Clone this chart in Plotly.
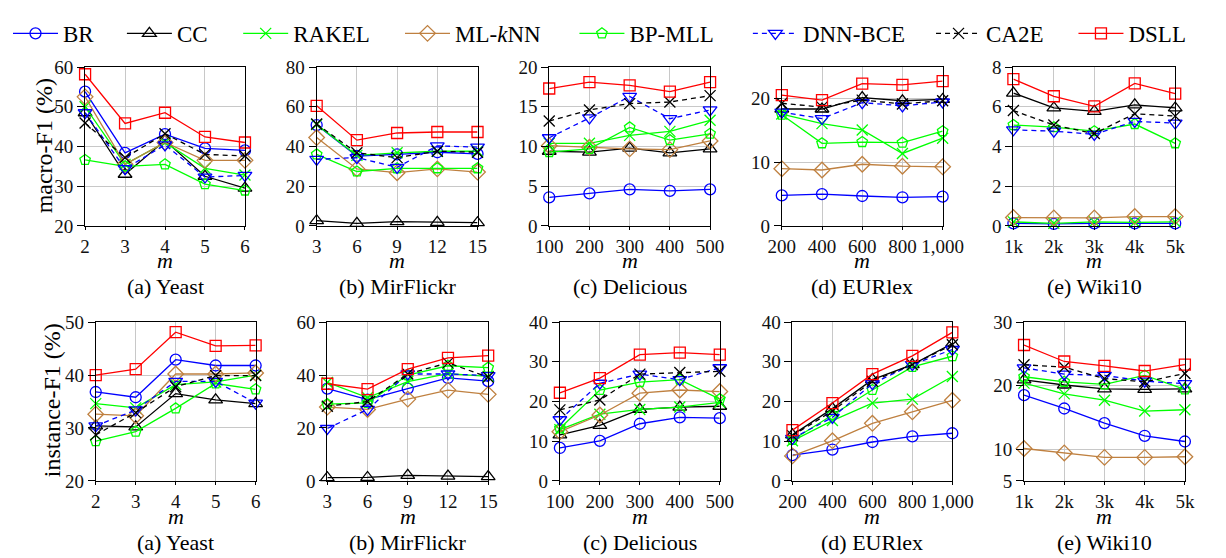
import plotly.graph_objects as go

W, H = 1226, 558

methods = ["BR", "CC", "RAKEL", "ML-kNN", "BP-MLL", "DNN-BCE", "CA2E", "DSLL"]
legend_names = ["BR", "CC", "RAKEL", "ML-<i>k</i>NN", "BP-MLL", "DNN-BCE", "CA2E", "DSLL"]
colors = ["#0000ff", "#000000", "#00ff00", "#bf8040", "#00ff00", "#0000ff", "#000000", "#ff0000"]
symbols = ["circle-open", "triangle-up-open", "x-thin-open", "diamond-open",
           "pentagon-open", "triangle-down-open", "x-thin-open", "square-open"]
msizes = [11, 12, 11, 12, 11, 12, 11, 11]
dashes = ["solid", "solid", "solid", "solid", "solid", "5px,4px", "5px,4px", "solid"]

# ---------------- x values ----------------
x_yeast = [2, 3, 4, 5, 6]
x_mir = [3, 6, 9, 12, 15]
x_del = [100, 200, 300, 400, 500]
x_eur = [200, 400, 600, 800, 1000]
x_wiki = [1000, 2000, 3000, 4000, 5000]
wiki_ticktext = ["1k", "2k", "3k", "4k", "5k"]

# ---------------- macro-F1 (%) ----------------
yeast_macro = {
    "BR": [53.8, 38.4, 43.1, 39.5, 39.0],
    "CC": [48.5, 33.0, 41.5, 32.5, 29.5],
    "RAKEL": [50.0, 35.5, 41.0, 34.5, 32.8],
    "ML-kNN": [52.5, 35.5, 41.0, 36.5, 36.5],
    "BP-MLL": [36.6, 35.0, 35.5, 30.5, 28.9],
    "DNN-BCE": [48.5, 34.4, 40.4, 32.3, 32.7],
    "CA2E": [45.9, 37.2, 43.2, 38.0, 37.6],
    "DSLL": [58.2, 45.8, 48.5, 42.4, 41.0],
}
mir_macro = {
    "BR": [50.8, 35.2, 36.0, 37.1, 36.3],
    "CC": [2.6, 1.3, 2.1, 1.8, 1.6],
    "RAKEL": [51.0, 35.5, 36.8, 37.6, 37.6],
    "ML-kNN": [44.5, 28.7, 26.8, 28.7, 27.1],
    "BP-MLL": [36.0, 27.4, 29.0, 29.0, 29.0],
    "DNN-BCE": [33.5, 34.4, 29.5, 40.3, 39.7],
    "CA2E": [51.3, 36.8, 34.4, 37.6, 37.1],
    "DSLL": [60.5, 43.2, 46.8, 47.3, 47.3],
}
del_macro = {
    "BR": [3.6, 4.1, 4.6, 4.4, 4.6],
    "CC": [9.4, 9.3, 9.8, 9.2, 9.7],
    "RAKEL": [10.4, 10.4, 11.4, 11.9, 13.3],
    "ML-kNN": [10.1, 9.9, 9.7, 9.6, 10.7],
    "BP-MLL": [9.3, 9.7, 12.4, 10.8, 11.6],
    "DNN-BCE": [11.1, 13.6, 16.3, 13.5, 14.6],
    "CA2E": [13.2, 14.6, 15.4, 15.6, 16.4],
    "DSLL": [17.3, 18.1, 17.7, 16.9, 18.1],
}
eur_macro = {
    "BR": [4.8, 5.0, 4.7, 4.5, 4.6],
    "CC": [18.4, 18.4, 20.2, 19.7, 19.9],
    "RAKEL": [17.6, 16.1, 15.1, 11.4, 13.8],
    "ML-kNN": [9.0, 8.8, 9.7, 9.4, 9.3],
    "BP-MLL": [17.5, 13.0, 13.2, 13.1, 14.9],
    "DNN-BCE": [17.9, 16.9, 19.4, 18.9, 19.5],
    "CA2E": [19.3, 18.7, 19.8, 19.2, 19.7],
    "DSLL": [20.6, 19.8, 22.4, 22.2, 22.8],
}
wiki_macro = {
    "BR": [0.13, 0.10, 0.13, 0.13, 0.13],
    "CC": [6.69, 5.94, 5.77, 6.10, 5.94],
    "RAKEL": [0.20, 0.13, 0.20, 0.18, 0.20],
    "ML-kNN": [0.42, 0.40, 0.40, 0.47, 0.47],
    "BP-MLL": [5.08, 4.97, 4.77, 5.13, 4.16],
    "DNN-BCE": [4.84, 4.77, 4.61, 5.26, 5.18],
    "CA2E": [5.81, 5.08, 4.65, 5.65, 5.53],
    "DSLL": [7.39, 6.53, 6.02, 7.18, 6.66],
}

# ---------------- instance-F1 (%) ----------------
yeast_inst = {
    "BR": [36.8, 35.8, 42.9, 41.8, 41.8],
    "CC": [30.4, 30.2, 36.5, 35.3, 34.6],
    "RAKEL": [34.6, 33.8, 38.2, 38.7, 40.0],
    "ML-kNN": [32.6, 32.3, 40.2, 40.2, 40.4],
    "BP-MLL": [27.5, 29.3, 33.7, 38.4, 37.3],
    "DNN-BCE": [30.4, 33.4, 38.8, 38.8, 34.7],
    "CA2E": [28.7, 32.9, 37.8, 39.9, 39.9],
    "DSLL": [40.0, 41.1, 48.1, 45.5, 45.6],
}
mir_inst = {
    "BR": [34.9, 30.7, 34.9, 38.9, 37.7],
    "CC": [1.2, 1.3, 2.1, 1.8, 1.6],
    "RAKEL": [37.2, 31.5, 37.5, 40.5, 39.5],
    "ML-kNN": [27.9, 27.0, 30.9, 34.3, 32.7],
    "BP-MLL": [29.0, 29.5, 40.0, 43.5, 42.8],
    "DNN-BCE": [19.8, 27.0, 40.4, 40.4, 39.8],
    "CA2E": [28.2, 30.0, 40.4, 44.6, 39.2],
    "DSLL": [36.7, 34.7, 42.2, 46.5, 47.3],
}
del_inst = {
    "BR": [8.3, 10.1, 14.4, 16.0, 15.8],
    "CC": [11.6, 14.0, 18.0, 18.6, 18.8],
    "RAKEL": [12.9, 16.8, 18.0, 18.6, 19.8],
    "ML-kNN": [12.4, 16.6, 22.1, 22.9, 22.5],
    "BP-MLL": [13.2, 22.9, 24.9, 25.5, 20.6],
    "DNN-BCE": [15.4, 24.6, 26.9, 25.5, 28.5],
    "CA2E": [17.9, 20.4, 26.9, 27.3, 27.6],
    "DSLL": [22.2, 25.9, 31.8, 32.3, 31.8],
}
eur_inst = {
    "BR": [6.5, 7.9, 9.8, 11.2, 12.0],
    "CC": [11.6, 18.2, 25.5, 29.3, 34.6],
    "RAKEL": [10.1, 15.2, 19.6, 20.6, 26.3],
    "ML-kNN": [6.3, 10.1, 14.5, 17.4, 20.3],
    "BP-MLL": [10.3, 16.6, 22.9, 28.7, 31.4],
    "DNN-BCE": [10.7, 16.0, 24.5, 29.3, 33.1],
    "CA2E": [11.4, 17.6, 25.1, 29.3, 34.3],
    "DSLL": [12.8, 19.6, 26.9, 31.5, 37.4],
}
wiki_inst = {
    "BR": [18.5, 16.4, 14.1, 12.1, 11.2],
    "CC": [20.9, 20.1, 19.5, 19.4, 19.5],
    "RAKEL": [20.4, 18.7, 17.7, 16.0, 16.2],
    "ML-kNN": [10.1, 9.4, 8.7, 8.7, 8.8],
    "BP-MLL": [21.4, 20.6, 20.2, 21.6, 19.4],
    "DNN-BCE": [22.8, 21.8, 21.6, 20.7, 20.3],
    "CA2E": [23.3, 22.9, 21.1, 20.6, 21.9],
    "DSLL": [26.4, 23.8, 23.1, 22.3, 23.3],
}

subtitles = ["(a) Yeast", "(b) MirFlickr", "(c) Delicious", "(d) EURlex", "(e) Wiki10"]

# panel geometry in pixels (left, right) and (top, bottom)
row_px_x = [
    [(62, 227), (301, 467), (541, 707), (781, 947), (1020, 1187)],
    [(73, 238), (312, 478), (552, 717), (792, 957), (1031, 1197)],
]
row_px_y = [(51, 216), (316, 481)]
m_offset = [36, 37]
sub_offset = [63, 64]

panels = [
    (0, 0, x_yeast, yeast_macro, [20, 60], [20, 30, 40, 50, 60]),
    (0, 1, x_mir, mir_macro, [0, 80], [0, 20, 40, 60, 80]),
    (0, 2, x_del, del_macro, [0, 20], [0, 5, 10, 15, 20]),
    (0, 3, x_eur, eur_macro, [0, 25], [0, 10, 20]),
    (0, 4, x_wiki, wiki_macro, [0, 8], [0, 2, 4, 6, 8]),
    (1, 0, x_yeast, yeast_inst, [20, 50], [20, 30, 40, 50]),
    (1, 1, x_mir, mir_inst, [0, 60], [0, 20, 40, 60]),
    (1, 2, x_del, del_inst, [0, 40], [0, 10, 20, 30, 40]),
    (1, 3, x_eur, eur_inst, [0, 40], [0, 10, 20, 30, 40]),
    (1, 4, x_wiki, wiki_inst, [5, 30], [5, 10, 20, 30]),
]

FONT = "Liberation Serif"
fig = go.Figure()
layout_axes = {}
annotations = []

for p_idx, (r, c, xs, data, yr, ytv) in enumerate(panels):
    n = p_idx + 1
    xa = "x" if n == 1 else f"x{n}"
    ya = "y" if n == 1 else f"y{n}"
    xkey = "xaxis" if n == 1 else f"xaxis{n}"
    ykey = "yaxis" if n == 1 else f"yaxis{n}"
    l, rr = row_px_x[r][c]
    t, b = row_px_y[r]
    for i, m in enumerate(methods):
        show = (p_idx == 0)
        tr = go.Scatter(
            x=xs, y=data[m], xaxis=xa, yaxis=ya, mode="lines+markers",
            name=legend_names[i], showlegend=show,
            line=dict(color=colors[i], width=1.3, dash=dashes[i]),
            marker=dict(symbol=symbols[i], size=msizes[i],
                        color=colors[i], line=dict(width=1.3, color=colors[i])),
            cliponaxis=False,
        )
        if show:
            tr.legend = "legend" if i == 0 else f"legend{i + 1}"
        fig.add_trace(tr)
    xaxis = dict(
        domain=[l / W, rr / W], anchor=ya, range=[xs[0], xs[-1]],
        tickvals=xs, showgrid=True, gridcolor="#c8c8c8", gridwidth=1,
        showline=True, linecolor="black", linewidth=1, mirror=True,
        ticks="outside", ticklen=3, tickcolor="black",
        tickfont=dict(family=FONT, size=19, color="#111"), zeroline=False,
    )
    if c == 3:
        xaxis["tickformat"] = ","
    if c == 4:
        xaxis["ticktext"] = wiki_ticktext
    yaxis = dict(
        domain=[1 - b / H, 1 - t / H], anchor=xa, range=yr,
        tickvals=ytv, showgrid=True, gridcolor="#c8c8c8", gridwidth=1,
        showline=True, linecolor="black", linewidth=1, mirror=True,
        ticks="outside", ticklen=7, tickcolor="black",
        tickfont=dict(family=FONT, size=19, color="#111"), zeroline=False,
    )
    layout_axes[xkey] = xaxis
    layout_axes[ykey] = yaxis
    cx = (l + rr) / 2 / W
    annotations.append(dict(text="<i>m</i>", x=cx, y=1 - (b + m_offset[r]) / H, xref="paper", yref="paper",
                            showarrow=False, font=dict(family=FONT, size=22, color="black"),
                            xanchor="center", yanchor="middle"))
    annotations.append(dict(text=subtitles[c], x=cx, y=1 - (b + sub_offset[r]) / H, xref="paper", yref="paper",
                            showarrow=False, font=dict(family=FONT, size=22, color="black"),
                            xanchor="center", yanchor="middle"))

annotations.append(dict(text="macro-F1 (%)", x=20 / W, y=1 - 133 / H, xref="paper", yref="paper",
                        showarrow=False, textangle=-90, font=dict(family=FONT, size=24, color="black"),
                        xanchor="center", yanchor="middle"))
annotations.append(dict(text="instance-F1 (%)", x=28 / W, y=1 - 397 / H, xref="paper", yref="paper",
                        showarrow=False, textangle=-90, font=dict(family=FONT, size=24, color="black"),
                        xanchor="center", yanchor="middle"))

# pixel x where each legend's symbol line starts
legend_line_px = [8, 126, 246, 413, 593, 772, 961, 1108]
legends = {}
for i, lx in enumerate(legend_line_px):
    key = "legend" if i == 0 else f"legend{i + 1}"
    legends[key] = dict(x=(lx - 26) / W, y=1 - 16 / H, xanchor="left", yanchor="middle",
                        orientation="h", bgcolor="rgba(0,0,0,0)", itemwidth=45,
                        font=dict(family=FONT, size=23, color="black"))

fig.update_layout(
    width=W, height=H, margin=dict(l=0, r=0, t=0, b=0),
    paper_bgcolor="white", plot_bgcolor="white",
    font=dict(family=FONT),
    annotations=annotations, **layout_axes, **legends,
)

fig.write_html("out.html")
